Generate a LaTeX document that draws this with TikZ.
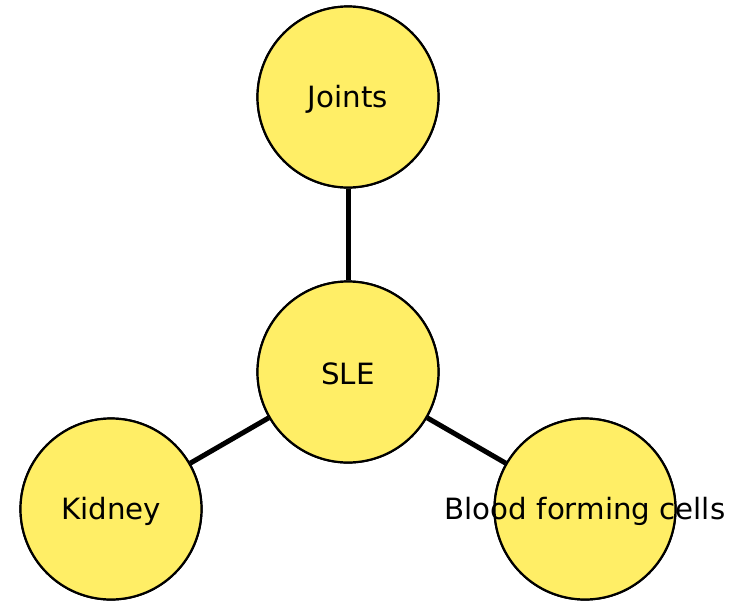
\documentclass[tikz,border=0pt]{standalone}
\usepackage{fontspec}
\setmainfont{DejaVu Sans}
\definecolor{yellowfill}{RGB}{255,238,102}
\begin{document}
\begin{tikzpicture}[x=1pt,y=-1pt,
  blob/.style={circle,draw=black,line width=2.2pt,fill=yellowfill,minimum size=181pt,inner sep=0pt},
  lbl/.style={inner sep=0pt,font=\fontsize{29.3}{32}\selectfont,text=black,yshift=-2pt},
  link/.style={line width=5pt,draw=black}]
\useasboundingbox (0,0) rectangle (731,600);
\node[blob] (j) at (348,97) {};
\node[blob] (s) at (348,372) {};
\node[blob] (k) at (111,509) {};
\node[blob] (b) at (585,509) {};
\draw[link] (s) -- (j);
\draw[link] (s) -- (k);
\draw[link] (s) -- (b);
\node[blob] (j2) at (348,97) {};
\node[blob] (s2) at (348,372) {};
\node[blob] (k2) at (111,509) {};
\node[blob] (b2) at (585,509) {};
\node[lbl] (jt) at (j2) {Joints};
\node[lbl] (st) at (s2) {SLE};
\node[lbl] (kt) at (k2) {Kidney};
\node[lbl] (bt) at (b2) {Blood forming cells};
\end{tikzpicture}
\end{document}
